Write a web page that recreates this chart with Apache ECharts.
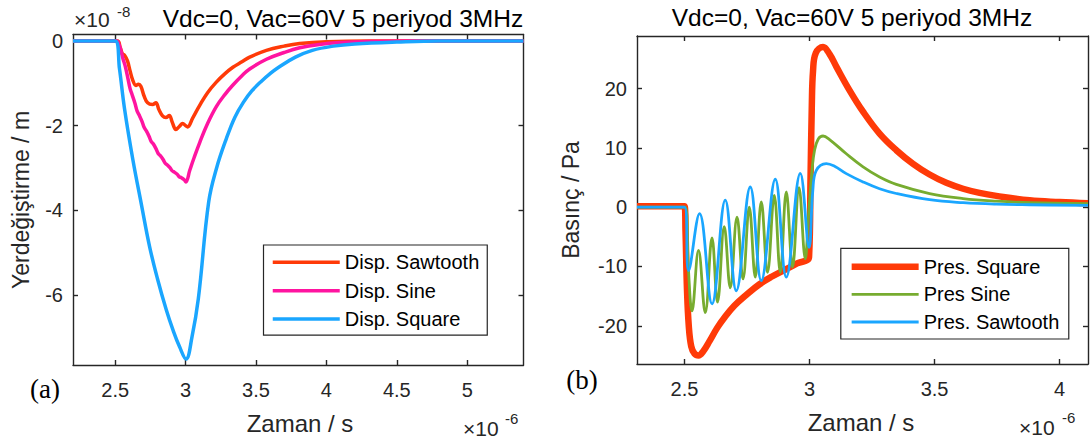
<!DOCTYPE html>
<html><head><meta charset="utf-8">
<script src="https://cdn.jsdelivr.net/npm/echarts@6/dist/echarts.min.js"></script>
<style>html,body{margin:0;padding:0;background:#fff}#c{width:1091px;height:444px}</style>
</head><body><div id="c"></div>
<script>
// ---- Panel (a): displacement (units: x 1e-6 s, y 1e-8 m) ----
const dispSawT = [2.2,2.515,2.535,2.552,2.565,2.587,2.605,2.623,2.647,2.665,2.682,2.705,2.73,2.765,2.789,2.81,2.836,2.86,2.884,2.905,2.931,2.955,2.979,3.0,3.014,3.05,3.1,3.156,3.218,3.28,3.336,3.4,3.455,3.574,3.7,3.81,4.0,4.3,5.4];
const dispSaw  = [0,0,-0.15,-0.31,-0.33,-0.47,-0.7,-0.91,-1.05,-1.02,-1.07,-1.3,-1.46,-1.5,-1.46,-1.62,-1.77,-1.81,-1.76,-1.92,-2.09,-2.02,-1.95,-2.0,-2.03,-1.82,-1.52,-1.22,-0.97,-0.77,-0.62,-0.49,-0.38,-0.22,-0.12,-0.06,-0.018,0,0];
const dispSineT = [2.2,2.51,2.525,2.54,2.555,2.57,2.59,2.605,2.62,2.64,2.655,2.67,2.69,2.705,2.72,2.74,2.755,2.77,2.79,2.805,2.82,2.84,2.855,2.87,2.89,2.905,2.92,2.94,2.955,2.97,2.99,3.002,3.03,3.06,3.1,3.156,3.218,3.28,3.336,3.4,3.455,3.574,3.7,3.81,3.95,4.1,4.3,4.6,5.4];
const dispSine  = [0,0,-0.07,-0.22,-0.42,-0.58,-0.88,-1.12,-1.27,-1.47,-1.65,-1.75,-1.9,-2.04,-2.12,-2.25,-2.37,-2.43,-2.55,-2.66,-2.71,-2.8,-2.89,-2.93,-3.0,-3.07,-3.1,-3.15,-3.21,-3.23,-3.28,-3.33,-3.05,-2.76,-2.4,-1.95,-1.55,-1.26,-1.04,-0.82,-0.66,-0.43,-0.27,-0.16,-0.08,-0.035,-0.01,0,0];
const dispSqT = [2.2,2.5,2.53,2.566,2.625,2.685,2.744,2.8,2.863,2.91,2.957,3.003,3.045,3.09,3.164,3.22,3.29,3.35,3.41,3.47,3.535,3.6,3.656,3.78,3.9,4.05,4.2,4.5,4.8,5.4];
const dispSq  = [0,0,-0.65,-1.6,-2.8,-3.85,-4.86,-5.62,-6.36,-6.83,-7.23,-7.52,-7.0,-6.1,-3.8,-3.0,-2.3,-1.8,-1.45,-1.18,-0.96,-0.77,-0.63,-0.38,-0.22,-0.12,-0.07,-0.025,0,0];
const xTicksA = [2.5,3,3.5,4,4.5,5];
const yTicksA = [0,-2,-4,-6];

// ---- Panel (b): pressure (units: x 1e-6 s, y Pa) ----
const presSqT = [2.31,2.5,2.504,2.51,2.517,2.527,2.54,2.556,2.575,2.6,2.63,2.66,2.7,2.75,2.8,2.85,2.9,2.95,2.998,3.004,3.009,3.014,3.025,3.054,3.08,3.107,3.16,3.214,3.28,3.347,3.414,3.48,3.547,3.614,3.68,3.747,3.88,4.0,4.1135];
const presSq  = [0.15,0.15,-4,-14,-20,-23.5,-24.7,-25,-24.3,-22.6,-20.4,-18.6,-16.6,-14.7,-13.0,-11.7,-10.6,-9.5,-8.4,5,17,23,26,27.0,25.8,23.7,19.7,16.1,12.4,9.6,7.3,5.5,4.1,3.1,2.4,1.9,1.15,0.85,0.65];
const presSineT = [2.31,2.503,2.515,2.53,2.556,2.583,2.61,2.632,2.659,2.683,2.71,2.734,2.759,2.783,2.807,2.832,2.859,2.883,2.907,2.932,2.958,2.983,2.995,3.01,3.02,3.035,3.054,3.08,3.147,3.214,3.28,3.347,3.48,3.614,3.747,3.88,4.1135];
const presSine  = [0,0,-10,-17.5,-7.3,-17.8,-5.2,-16.0,-3.3,-13.6,-1.7,-12.1,0.0,-11.8,0.9,-11.0,2.0,-11.0,2.55,-10.1,3.3,-8.7,-2,6.3,9.6,11.5,12.0,11.4,9.0,6.8,5.1,3.85,2.3,1.45,1.0,0.75,0.6];
const presSawT = [2.31,2.5,2.516,2.56,2.61,2.663,2.707,2.763,2.807,2.863,2.907,2.963,2.998,3.013,3.027,3.067,3.1,3.147,3.214,3.28,3.347,3.48,3.614,3.747,3.88,4.1135];
const presSaw  = [0,0,-10.7,-1.1,-16.3,1.2,-14.1,3.4,-12.4,4.7,-11.8,5.7,-6.8,2.8,6.2,7.35,6.9,5.65,4.25,3.1,2.3,1.25,0.75,0.5,0.4,0.3];
const xTicksB = [2.5,3,3.5,4];
const yTicksB = [-20,-10,0,10,20];

const FONT = '"Liberation Sans", Arial, sans-serif';
const AX = '#262626';
const zip = (t, v) => t.map((x, i) => [x, v[i]]);

function xAxis(grid, min, max, ticks, top) {
  return {
    type: 'value', gridIndex: grid, min: min, max: max, position: top ? 'top' : 'bottom',
    axisLine: {show: true, onZero: false, lineStyle: {color: AX, width: 1.4}},
    axisTick: {show: true, inside: true, length: 5, customValues: ticks, lineStyle: {color: AX, width: 1.4}},
    axisLabel: {show: !top, customValues: ticks, margin: 15, color: AX, fontSize: 20, fontFamily: FONT},
    splitLine: {show: false}
  };
}
function yAxis(grid, min, max, ticks, right) {
  return {
    type: 'value', gridIndex: grid, min: min, max: max, position: right ? 'right' : 'left',
    axisLine: {show: true, onZero: false, lineStyle: {color: AX, width: 1.4}},
    axisTick: {show: true, inside: true, length: 5, customValues: ticks, lineStyle: {color: AX, width: 1.4}},
    axisLabel: {show: !right, customValues: ticks, margin: 10, color: AX, fontSize: 20, fontFamily: FONT},
    splitLine: {show: false}
  };
}
function line(name, data, color, width, xi, yi) {
  return {
    type: 'line', name: name, data: data, xAxisIndex: xi, yAxisIndex: yi,
    showSymbol: false, symbol: 'none', smooth: 0.4,
    lineStyle: {color: color, width: width}, itemStyle: {color: color},
    emphasis: {disabled: true}
  };
}
function txt(text, x, y, size, opts) {
  opts = opts || {};
  return {
    type: 'text', x: x, y: y, rotation: opts.rot || 0, silent: true,
    style: {text: text, fill: opts.fill || '#000', font: size + 'px ' + (opts.family || FONT),
      textAlign: opts.align || 'center', textVerticalAlign: 'middle', verticalAlign: 'middle'}
  };
}

const RED = '#ff3a08', MAG = '#ff14a0', BLUE = '#1aa6ff', GREEN = '#77ac30';

const legendBase = {
  orient: 'vertical', itemWidth: 67, itemHeight: 20, selectedMode: false,
  backgroundColor: '#fff', borderColor: AX, borderWidth: 1.2,
  itemStyle: {opacity: 0, borderWidth: 0},
  lineStyle: {width: 'inherit'}, textStyle: {fontSize: 20, color: '#000', fontFamily: FONT}
};

const chart = echarts.init(document.getElementById('c'), null, {renderer: 'svg', width: 1091, height: 444});
chart.setOption({
  animation: false,
  backgroundColor: '#fff',
  grid: [
    {left: 73, top: 34.5, width: 450.5, height: 330.5},
    {left: 637, top: 36, width: 451, height: 328}
  ],
  xAxis: [xAxis(0, 2.2, 5.4, xTicksA, false), xAxis(0, 2.2, 5.4, xTicksA, true),
          xAxis(1, 2.31, 4.1135, xTicksB, false), xAxis(1, 2.31, 4.1135, xTicksB, true)],
  yAxis: [yAxis(0, -7.66, 0.155, yTicksA, false), yAxis(0, -7.66, 0.155, yTicksA, true),
          yAxis(1, -26.45, 28.86, yTicksB, false), yAxis(1, -26.45, 28.86, yTicksB, true)],
  legend: [
    Object.assign({}, legendBase, {data: ['Disp. Sawtooth', 'Disp. Sine', 'Disp. Square'], left: 263.5, top: 245,
      itemGap: 8.4, padding: [7.3, 8, 6, 7.5]}),
    Object.assign({}, legendBase, {data: ['Pres. Square', 'Pres Sine', 'Pres. Sawtooth'], left: 840.8, top: 248.3,
      itemGap: 7.65, padding: [8.4, 9.5, 7, 7.6]})
  ],
  series: [
    line('Disp. Sawtooth', zip(dispSawT, dispSaw), RED, 3.5, 0, 0),
    line('Disp. Sine', zip(dispSineT, dispSine), MAG, 3.5, 0, 0),
    line('Disp. Square', zip(dispSqT, dispSq), BLUE, 3.5, 0, 0),
    line('Pres. Square', zip(presSqT, presSq), RED, 6.5, 2, 2),
    line('Pres Sine', zip(presSineT, presSine), GREEN, 2.8, 2, 2),
    line('Pres. Sawtooth', zip(presSawT, presSaw), BLUE, 2.8, 2, 2)
  ],
  graphic: [
    txt('Vdc=0, Vac=60V 5 periyod 3MHz', 343, 18, 24.5),
    txt('Vdc=0, Vac=60V 5 periyod 3MHz', 852, 17, 24.5),
    txt('Zaman / s', 300, 423, 24, {fill: AX}),
    txt('Zaman / s', 861, 422, 24, {fill: AX}),
    txt('Yerdeğiştirme / m', 21, 200, 23, {fill: AX, rot: Math.PI / 2}),
    txt('Basınç / Pa', 571, 200, 23, {fill: AX, rot: Math.PI / 2}),
    txt('×10', 74, 19, 21, {fill: AX, align: 'left'}),
    txt('-8', 117, 11.5, 15, {fill: AX, align: 'left'}),
    txt('×10', 463, 428.5, 21, {fill: AX, align: 'left'}),
    txt('-6', 505, 418, 15, {fill: AX, align: 'left'}),
    txt('×10', 1019, 427, 21, {fill: AX, align: 'left'}),
    txt('-6', 1062, 417, 15, {fill: AX, align: 'left'}),
    txt('(a)', 45, 389, 27, {family: '"Liberation Serif", "Times New Roman", serif'}),
    txt('(b)', 582, 380, 27, {family: '"Liberation Serif", "Times New Roman", serif'})
  ]
});
</script>
</body></html>
